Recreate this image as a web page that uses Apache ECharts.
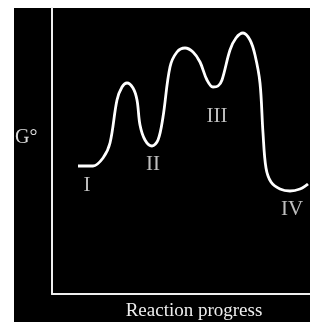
<!DOCTYPE html>
<html>
<head>
<meta charset="utf-8">
<script src="https://cdn.jsdelivr.net/npm/echarts@6/dist/echarts.min.js"></script>
<style>
  html, body { margin: 0; padding: 0; background: #fff; }
  #chart { width: 310px; height: 322px; }
</style>
</head>
<body>
<div id="chart"></div>
<script>
// reaction coordinate (x) and free energy (y)
var progress = [26, 41, 51, 58, 65, 70, 75, 81, 85, 88, 93, 100, 106, 111, 118, 125, 133, 141, 148, 155, 161, 166, 170, 178, 184, 191, 198, 203, 208, 211, 214, 219, 228, 238, 248, 256];
var energy   = [128, 128, 136, 151, 194, 207, 211, 206, 194, 169, 154, 148, 154, 177, 227, 242, 246, 242, 232, 214, 207, 208, 214, 244, 256, 261, 254, 239, 211, 161, 126, 112, 105, 103, 105, 110];

// state labels and where they sit
var stateNames = ['I', 'II', 'III', 'IV'];
var stateX = [35, 101, 165, 240];
var stateY = [111, 132, 180, 87];

var myChart = echarts.init(document.getElementById('chart'));

var curve = progress.map(function (x, i) { return [x, energy[i]]; });
var states = stateNames.map(function (n, i) { return { name: n, value: [stateX[i], stateY[i]] }; });

myChart.setOption({
  backgroundColor: '#fff',
  animation: false,
  graphic: [{
    type: 'rect',
    z: -100,
    shape: { x: 14, y: 8, width: 296, height: 314 },
    style: { fill: '#000' }
  }, {
    type: 'text',
    left: 15,
    top: 128,
    style: { text: 'G°', fill: '#ddd', font: '20px "Liberation Serif"' }
  }],
  grid: { left: 52, right: 0, top: 8, bottom: 28, outerBoundsMode: 'none', containLabel: false },
  xAxis: {
    type: 'value',
    min: 0,
    max: 258,
    name: 'Reaction progress',
    nameLocation: 'middle',
    nameGap: 8,
    nameTextStyle: { color: '#eee', fontFamily: 'Liberation Serif', fontSize: 19, padding: [0, 0, 0, 26] },
    axisLine: { show: true, lineStyle: { color: '#eee', width: 2 } },
    axisTick: { show: false },
    axisLabel: { show: false },
    splitLine: { show: false }
  },
  yAxis: {
    type: 'value',
    min: 0,
    max: 286,
    axisLine: { show: true, lineStyle: { color: '#eee', width: 2 } },
    axisTick: { show: false },
    axisLabel: { show: false },
    splitLine: { show: false }
  },
  series: [
    {
      type: 'line',
      data: curve,
      smooth: 0.35,
      symbol: 'none',
      lineStyle: { color: '#fff', width: 2.8 }
    },
    {
      type: 'scatter',
      data: states,
      symbolSize: 0,
      label: {
        show: true,
        position: 'inside',
        offset: [0, 2],
        formatter: '{b}',
        color: '#eee',
        fontFamily: 'Liberation Serif',
        fontSize: 21
      }
    }
  ]
});
</script>
</body>
</html>
